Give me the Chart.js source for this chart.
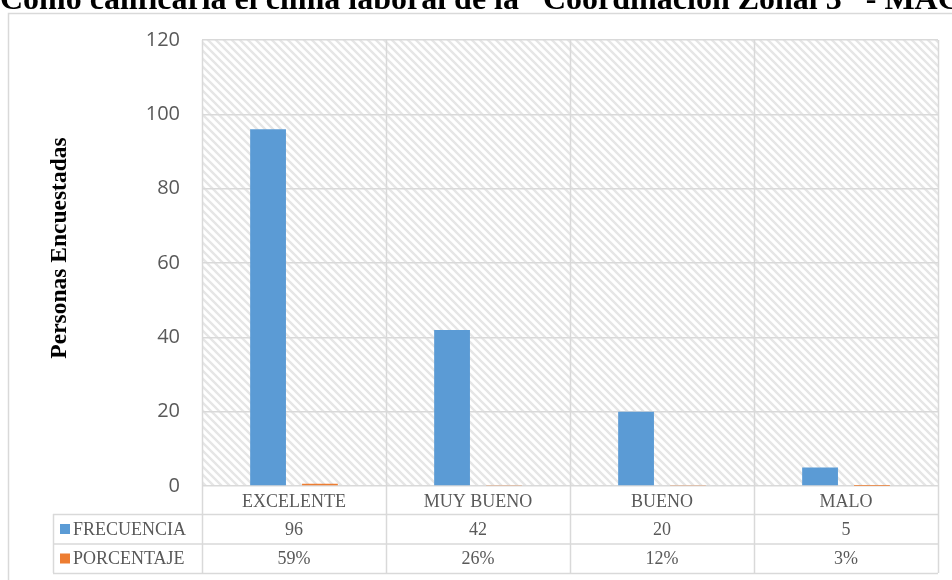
<!DOCTYPE html>
<html>
<head>
<meta charset="utf-8">
<script src="https://cdn.jsdelivr.net/npm/chart.js@4.4.1/dist/chart.umd.min.js"></script>
<style>
body{margin:0;background:#fff;}
canvas{display:block;}
</style>
</head>
<body>
<canvas id="clima" width="952" height="580"></canvas>
<script>
let titulo = "Cómo calificaría el clima laboral de la \u201CCoordinación Zonal 3\u201D - MAGAP";
let categorias = ["EXCELENTE", "MUY BUENO", "BUENO", "MALO"];
let frecuencia = [96, 42, 20, 5];
let porcentaje = [0.59, 0.26, 0.12, 0.03];
let yMin = 0, yMax = 120, yPaso = 20;

let azul = "#5b9bd5";
let naranja = "#ed7d31";
let gris = "#d9d9d9";
let texto = "#595959";

// tile with diagonal stripes for the plot background
function tramado(){
    let t = document.createElement("canvas");
    t.width = 8; t.height = 8;
    let c = t.getContext("2d");
    c.fillStyle = "#fff";
    c.fillRect(0,0,8,8);
    c.strokeStyle = "#e6e6e6";
    c.lineWidth = 2.4;
    c.beginPath();
    c.moveTo(-2,-2); c.lineTo(10,10);
    c.moveTo(-2,6); c.lineTo(2,10);
    c.moveTo(6,-2); c.lineTo(10,2);
    c.stroke();
    return t;
}

let fondo = {
    id:"fondo",
    beforeDraw(chart){
        let ctx = chart.ctx;
        let a = chart.chartArea;
        ctx.save();
        ctx.fillStyle = "#fff";
        ctx.fillRect(0,0,chart.width,chart.height);
        // outer frame
        ctx.strokeStyle = gris;
        ctx.lineWidth = 1.5;
        ctx.strokeRect(8.5,13.5,chart.width+20,chart.height+20);
        ctx.fillStyle = ctx.createPattern(tramado(),"repeat");
        ctx.fillRect(a.left,a.top,a.right-a.left,a.bottom-a.top);
        ctx.restore();
    },
    afterDraw(chart){
        let ctx = chart.ctx;
        let a = chart.chartArea;
        let x = chart.scales.x;
        let fila1 = 514, fila2 = 543.5, fin = 573;
        let izq = 53;
        ctx.save();

        // title, partly above the canvas
        ctx.fillStyle = "#000";
        ctx.font = "bold 32px 'Liberation Serif'";
        ctx.textAlign = "left";
        ctx.textBaseline = "alphabetic";
        ctx.fillText(titulo, 0, 9);

        // y axis title
        ctx.save();
        ctx.translate(66, 248);
        ctx.rotate(-Math.PI/2);
        ctx.textAlign = "center";
        ctx.font = "bold 23.5px 'Liberation Serif'";
        ctx.fillText("Personas Encuestadas", 0, 0);
        ctx.restore();

        // category dividers through plot and table
        ctx.strokeStyle = gris;
        ctx.lineWidth = 1.5;
        ctx.beginPath();
        let ancho = (a.right - a.left) / categorias.length;
        for(let i=0;i<=categorias.length;i++){
            let px = Math.round(a.left + i*ancho) + 0.5;
            ctx.moveTo(px, a.top);
            ctx.lineTo(px, fin);
        }
        ctx.moveTo(izq+0.5, fila1);
        ctx.lineTo(izq+0.5, fin);
        [fila1, fila2, fin].forEach(function(y){
            ctx.moveTo(izq, y+0.5);
            ctx.lineTo(a.right, y+0.5);
        });
        ctx.stroke();

        // data table
        ctx.font = "18px 'Liberation Serif'";
        ctx.textBaseline = "middle";
        ctx.fillStyle = azul;
        ctx.fillRect(60, fila1+10, 10, 10);
        ctx.fillStyle = naranja;
        ctx.fillRect(60, fila2+10, 10, 10);
        ctx.fillStyle = texto;
        ctx.textAlign = "left";
        ctx.fillText("FRECUENCIA", 73, (fila1+fila2)/2+1.5);
        ctx.fillText("PORCENTAJE", 73, (fila2+fin)/2+1.5);
        ctx.textAlign = "center";
        categorias.forEach(function(c,i){
            let cx = x.getPixelForValue(i);
            ctx.fillText(String(frecuencia[i]), cx, (fila1+fila2)/2+1.5);
            ctx.fillText(Math.round(porcentaje[i]*100)+"%", cx, (fila2+fin)/2+1.5);
        });
        ctx.restore();
    }
};

new Chart(document.getElementById("clima"),{
    type:"bar",
    data:{
        labels:categorias,
        datasets:[
            {label:"FRECUENCIA", data:frecuencia, backgroundColor:azul},
            {label:"PORCENTAJE", data:porcentaje, backgroundColor:naranja}
        ]
    },
    options:{
        responsive:false,
        animation:false,
        devicePixelRatio:1,
        categoryPercentage:0.564,
        barPercentage:0.69,
        layout:{padding:{top:40,right:14,left:0,bottom:0}},
        plugins:{legend:{display:false},tooltip:{enabled:false}},
        scales:{
            x:{
                grid:{display:false},
                border:{display:false},
                ticks:{
                    color:texto,
                    padding:-3,
                    font:{family:"'Liberation Serif'",size:18}
                },
                afterFit:function(s){ s.height = 94; }
            },
            y:{
                min:yMin, max:yMax,
                grid:{color:gris,lineWidth:1.5,drawTicks:false},
                border:{display:false},
                ticks:{
                    stepSize:yPaso,
                    color:texto,
                    padding:22,
                    font:{family:"'Open Sans'",size:20}
                },
                afterFit:function(s){ s.width = 202; }
            }
        }
    },
    plugins:[fondo]
});
</script>
</body>
</html>
